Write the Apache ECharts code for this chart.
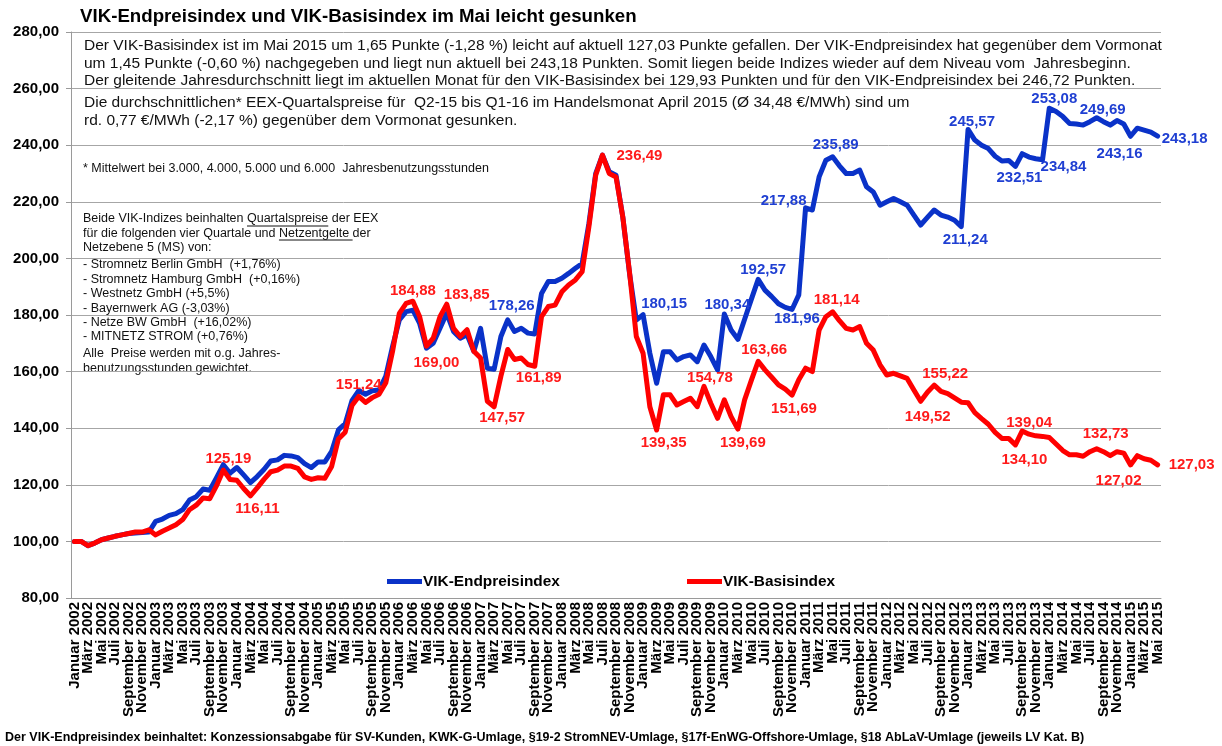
<!DOCTYPE html>
<html>
<head>
<meta charset="utf-8">
<script src="https://cdn.jsdelivr.net/npm/echarts@6/dist/echarts.min.js"></script>
<style>
html, body { margin: 0; padding: 0; background: #fff; }
#chart { width: 1222px; height: 746px; }
</style>
</head>
<body>
<div id="chart"></div>
<script>
// Monatswerte Januar 2002 bis Mai 2015 (161 Monate)
var monthNames = ['Januar', 'Februar', 'März', 'April', 'Mai', 'Juni', 'Juli',
    'August', 'September', 'Oktober', 'November', 'Dezember'];
var firstYear = 2002, lastYear = 2015, lastMonth = 5;

var yTicks = [80, 100, 120, 140, 160, 180, 200, 220, 240, 260, 280];

var endpreisindex = [
    100, 100, 98.5, 99.4, 100.6, 101.2, 101.8, 102.3, 102.8, 103.0, 103.1, 103.3,
    107.1, 107.9, 109.2, 109.8, 111.2, 114.6, 115.8, 118.5, 118.1, 122.5, 127.1, 124.1,
    126.1, 123.5, 120.8, 122.9, 125.4, 128.4, 128.8, 130.4, 130.2, 129.6, 127.5, 126.1,
    128.1, 128.1, 131.8, 139.4, 141.6, 149.7, 153.3, 152.0, 153.2, 153.5, 158.4, 168.9,
    178.3, 181.2, 181.7, 177.0, 168.3, 170.0, 175.3, 180.6, 174.2, 171.8, 173.0, 167.2,
    175.3, 161.2, 160.8, 172.4, 178.26, 174.2, 175.3, 173.6, 173.3, 187.6, 191.8, 191.8,
    193.0, 194.7, 196.5, 198.2, 212.4, 230.0, 236.5, 230.6, 229.4, 214.7, 194.7, 178.2,
    180.15, 166.5, 155.9, 167.0, 167.0, 164.1, 165.3, 165.9, 163.5, 169.4, 165.3, 160.6,
    180.34, 174.7, 171.4, 178.5, 185.6, 192.57, 188.8, 186.5, 184.0, 182.7, 181.96, 187.1,
    217.88, 217.1, 228.8, 234.7, 235.89, 232.7, 230.0, 230.0, 231.2, 225.3, 223.5, 218.8,
    220.0, 221.2, 220.0, 218.8, 215.3, 211.8, 214.5, 217.1, 215.3, 214.6, 213.5, 211.24,
    245.57, 241.8, 240.0, 238.8, 236.1, 234.4, 234.6, 232.51, 237.0, 235.8, 235.2, 234.84,
    253.08, 251.9, 250.1, 247.7, 247.5, 247.1, 248.3, 249.69, 248.3, 247.1, 248.7, 247.5,
    243.16, 246.0, 245.3, 244.63, 243.18
];

var basisindex = [
    100, 100, 98.5, 99.4, 100.6, 101.2, 101.8, 102.3, 102.8, 103.3, 103.3, 104.1,
    102.3, 103.6, 104.7, 105.9, 107.7, 111.2, 112.8, 115.3, 115.1, 119.7, 125.19, 121.9,
    121.6, 118.7, 116.11, 118.9, 121.9, 124.6, 125.2, 126.6, 126.6, 125.8, 122.8, 121.9,
    122.5, 122.3, 126.5, 136.2, 138.6, 148.0, 151.24, 149.1, 150.8, 152.0, 156.1, 167.2,
    180.6, 184.1, 184.88, 179.4, 169.00, 171.8, 179.4, 183.85, 175.3, 172.4, 174.8, 167.2,
    164.8, 149.5, 147.57, 158.4, 167.8, 164.3, 164.8, 162.5, 161.89, 179.4, 183.0, 183.5,
    188.2, 190.6, 192.4, 195.3, 211.2, 229.4, 236.49, 230.0, 228.8, 214.7, 195.0, 172.4,
    166.5, 147.6, 139.35, 151.8, 151.8, 148.2, 149.4, 150.6, 147.6, 154.78, 148.8, 143.5,
    150.0, 144.1, 139.69, 150.0, 157.0, 163.66, 160.6, 158.0, 155.3, 153.8, 151.69, 157.1,
    161.2, 160.0, 174.7, 179.4, 181.14, 178.0, 175.3, 174.7, 175.9, 170.0, 167.6, 162.4,
    158.8, 159.4, 158.5, 157.6, 153.5, 149.52, 152.7, 155.22, 153.0, 152.2, 150.7, 149.2,
    149.0, 145.5, 143.4, 141.4, 138.5, 136.4, 136.4, 134.10, 139.04, 137.9, 137.3, 137.1,
    136.7, 134.4, 132.1, 130.6, 130.6, 130.1, 131.7, 132.73, 131.7, 130.3, 131.7, 131.2,
    127.02, 130.3, 129.2, 128.68, 127.03
];

// beschriftete Punkte: [Index, Position, Versatz]
var endpreisLabels = [
    [64, 'top', [4, -3]], [84, 'top', [21, 1]], [96, 'top', [3, 2]], [101, 'top', [5, 2]],
    [106, 'bottom', [5, -2]], [108, 'left', [5, -7]], [112, 'top', [3, 0]], [131, 'bottom', [4, 2]],
    [132, 'top', [4, 4]], [139, 'bottom', [4, 0]], [143, 'bottom', [21, -4]], [144, 'top', [5, 2]],
    [151, 'top', [6, 4]], [156, 'bottom', [-11, 6]], [160, 'right', [0, 3]]
];
var basisLabels = [
    [22, 'top', [5, 0]], [26, 'bottom', [7, 2]], [42, 'top', [0, 0]], [50, 'top', [0, 1]],
    [52, 'bottom', [10, 5]], [55, 'top', [20, 2]], [62, 'bottom', [8, 0]], [68, 'bottom', [4, 0]],
    [78, 'right', [10, 1]], [86, 'bottom', [7, 1]], [93, 'top', [6, 3]], [98, 'bottom', [5, 2]],
    [101, 'top', [6, 0]], [106, 'bottom', [2, 2]], [112, 'top', [4, 0]], [125, 'bottom', [7, 4]],
    [127, 'top', [11, 0]], [139, 'bottom', [9, 3]], [140, 'top', [7, 3]], [151, 'top', [9, -3]],
    [156, 'bottom', [-12, 4]], [160, 'right', [7, 0]]
];

var categories = [];
for (var y = firstYear; y <= lastYear; y++) {
    for (var m = 0; m < 12; m++) {
        if (y === lastYear && m >= lastMonth) break;
        categories.push(monthNames[m] + ' ' + y);
    }
}

var FONT = '"Liberation Sans", Arial, sans-serif';
var BLUE = '#0a32c8';
var RED = '#ff0000';

function fmt(v) {
    return v.toFixed(2).replace('.', ',');
}

function withLabels(values, specs, color) {
    var data = values.map(function (v) { return v; });
    specs.forEach(function (s) {
        data[s[0]] = {
            value: values[s[0]],
            label: {
                show: true, position: s[1], offset: s[2], distance: 4,
                color: color, fontWeight: 'bold', fontSize: 15, fontFamily: FONT,
                formatter: function (p) { return fmt(p.value); }
            }
        };
    });
    return data;
}

// Textblöcke
var ctx = document.createElement('canvas').getContext('2d');
function textW(str, font) {
    ctx.font = font;
    return ctx.measureText(str).width;
}

function lines(arr, x, y0, step, font, color) {
    return arr.map(function (t, k) {
        return {
            type: 'text', x: x, y: y0 + k * step, silent: true,
            style: { text: t, font: font, fill: color, verticalAlign: 'middle' }
        };
    });
}

var fontTop = '15.5px ' + FONT;
var fontSmall = '12.5px ' + FONT;
var graphics = [];
graphics.push({
    type: 'text', x: 80, y: 17, silent: true,
    style: { text: 'VIK-Endpreisindex und VIK-Basisindex im Mai leicht gesunken',
        font: 'bold 18.7px ' + FONT, fill: '#000', verticalAlign: 'middle' }
});
graphics = graphics.concat(lines([
    'Der VIK-Basisindex ist im Mai 2015 um 1,65 Punkte (-1,28 %) leicht auf aktuell 127,03 Punkte gefallen. Der VIK-Endpreisindex hat gegenüber dem Vormonat',
    'um 1,45 Punkte (-0,60 %) nachgegeben und liegt nun aktuell bei 243,18 Punkten. Somit liegen beide Indizes wieder auf dem Niveau vom  Jahresbeginn.',
    'Der gleitende Jahresdurchschnitt liegt im aktuellen Monat für den VIK-Basisindex bei 129,93 Punkten und für den VIK-Endpreisindex bei 246,72 Punkten.'
], 84, 46, 17.5, fontTop, '#111'));
graphics = graphics.concat(lines([
    'Die durchschnittlichen* EEX-Quartalspreise für  Q2-15 bis Q1-16 im Handelsmonat April 2015 (Ø 34,48 €/MWh) sind um',
    'rd. 0,77 €/MWh (-2,17 %) gegenüber dem Vormonat gesunken.'
], 84, 103, 17.5, fontTop, '#111'));
graphics = graphics.concat(lines([
    '* Mittelwert bei 3.000, 4.000, 5.000 und 6.000  Jahresbenutzungsstunden'
], 83, 169, 15, '12.5px ' + FONT, '#111'));
var block = [
    'Beide VIK-Indizes beinhalten Quartalspreise der EEX',
    'für die folgenden vier Quartale und Netzentgelte der',
    'Netzebene 5 (MS) von:',
    '- Stromnetz Berlin GmbH  (+1,76%)',
    '- Stromnetz Hamburg GmbH  (+0,16%)',
    '- Westnetz GmbH (+5,5%)',
    '- Bayernwerk AG (-3,03%)',
    '- Netze BW GmbH  (+16,02%)',
    '- MITNETZ STROM (+0,76%)'
];
graphics = graphics.concat(lines(block.slice(0, 3), 83, 219, 14.3, fontSmall, '#111'));
graphics = graphics.concat(lines(block.slice(3), 83, 265, 14.4, fontSmall, '#111'));
graphics = graphics.concat(lines([
    'Alle  Preise werden mit o.g. Jahres-',
    'benutzungsstunden gewichtet.'
], 83, 354, 14.6, fontSmall, '#111'));

// Unterstreichungen
[['Beide VIK-Indizes beinhalten ', 'Quartalspreise', 226], ['für die folgenden vier Quartale und ', 'Netzentgelte ', 240]]
    .forEach(function (u) {
        var x1 = 83 + textW(u[0], fontSmall);
        var x2 = x1 + textW(u[1], fontSmall);
        graphics.push({ type: 'line', silent: true, shape: { x1: x1, y1: u[2], x2: x2, y2: u[2] },
            style: { stroke: '#111', lineWidth: 1 } });
    });

var footText = 'Der VIK-Endpreisindex beinhaltet: Konzessionsabgabe für SV-Kunden, KWK-G-Umlage, §19-2 StromNEV-Umlage, §17f-EnWG-Offshore-Umlage, §18 AbLaV-Umlage (jeweils LV Kat. B)';
var footSize = 1080 / textW(footText, 'bold 10px ' + FONT) * 10;
graphics.push({
    type: 'text', x: 5, y: 738, silent: true,
    style: { text: footText, font: 'bold ' + footSize.toFixed(2) + 'px ' + FONT, fill: '#000', verticalAlign: 'middle' }
});

var chart = echarts.init(document.getElementById('chart'));
chart.setOption({
    animation: false,
    backgroundColor: '#fff',
    grid: { left: 71, top: 32, width: 1090, height: 566, containLabel: false },
    legend: [{
        data: ['VIK-Endpreisindex'], left: 382, top: 569, icon: 'rect',
        itemWidth: 35, itemHeight: 5, itemGap: 0,
        textStyle: { fontWeight: 'bold', fontSize: 15.4, fontFamily: FONT, color: '#000', padding: [0, 0, 0, -4] }
    }, {
        data: ['VIK-Basisindex'], left: 682, top: 569, icon: 'rect',
        itemWidth: 35, itemHeight: 5, itemGap: 0,
        textStyle: { fontWeight: 'bold', fontSize: 15.4, fontFamily: FONT, color: '#000', padding: [0, 0, 0, -4] }
    }],
    xAxis: {
        type: 'category',
        data: categories,
        boundaryGap: true,
        axisLine: { lineStyle: { color: '#9a9a9a', width: 1 } },
        axisTick: { interval: 1, length: 5, lineStyle: { color: '#9a9a9a' } },
        axisLabel: {
            // jeder zweite Monat beschriftet
            interval: 0, rotate: 90, margin: 4, hideOverlap: false,
            fontWeight: 'bold', fontSize: 15, fontFamily: FONT, color: '#000',
            formatter: function (v, idx) { return idx % 2 === 0 ? v : ''; }
        },
        splitLine: { show: false }
    },
    yAxis: {
        type: 'value',
        min: yTicks[0], max: yTicks[yTicks.length - 1], interval: yTicks[1] - yTicks[0],
        axisLine: { show: true, lineStyle: { color: '#9a9a9a', width: 1 } },
        axisTick: { show: true, length: 5, lineStyle: { color: '#9a9a9a' } },
        axisLabel: {
            margin: 12, fontWeight: 'bold', fontSize: 15, fontFamily: FONT, color: '#000',
            formatter: function (v) { return fmt(v); }
        },
        splitLine: { lineStyle: { color: '#a6a6a6', width: 1 } }
    },
    series: [{
        name: 'VIK-Endpreisindex',
        type: 'line',
        data: withLabels(endpreisindex, endpreisLabels, '#1f3fd2'),
        symbol: 'circle', symbolSize: 0.1, showAllSymbol: true,
        itemStyle: { color: BLUE },
        lineStyle: { color: BLUE, width: 5, join: 'round', cap: 'round' },
        z: 3
    }, {
        name: 'VIK-Basisindex',
        type: 'line',
        data: withLabels(basisindex, basisLabels, '#ff1a1a'),
        symbol: 'circle', symbolSize: 0.1, showAllSymbol: true,
        itemStyle: { color: RED },
        lineStyle: { color: RED, width: 5, join: 'round', cap: 'round' },
        z: 4
    }],
    graphic: graphics
});
</script>
</body>
</html>
